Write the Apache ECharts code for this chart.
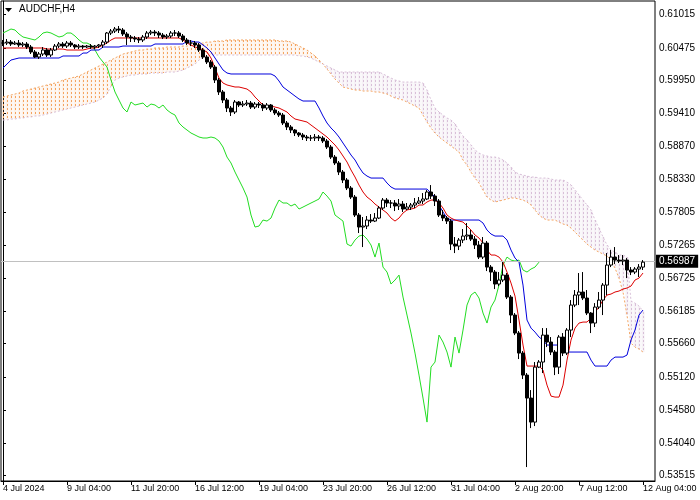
<!DOCTYPE html>
<html><head><meta charset="utf-8">
<script src="https://cdn.jsdelivr.net/npm/echarts@6/dist/echarts.min.js"></script>
<style>html,body{margin:0;padding:0;background:#fff}#c{width:700px;height:500px}</style>
</head><body><div id="c"></div>
<script>
const symbolTitle = 'AUDCHF,H4';
const xTickBars = [0,16,32,48,64,80,96,112,128,144,160];
const xTickLabels = ['4 Jul 2024','9 Jul 04:00','11 Jul 20:00','16 Jul 12:00','19 Jul 04:00','23 Jul 20:00','26 Jul 12:00','31 Jul 04:00','2 Aug 20:00','7 Aug 12:00','12 Aug 04:00'];
const yTickLabels = ['0.61015','0.60475','0.59950','0.59410','0.58870','0.58330','0.57805','0.57265','0.56725','0.56185','0.55660','0.55120','0.54580','0.54040','0.53515'];
const lastPrice = 0.56987;
const chikouShift = 26;

const open = [
0.60554,0.60554,0.60570,0.60538,0.60554,0.60522,0.60538,0.60489,0.60408,0.60326,
0.60375,0.60440,0.60359,0.60440,0.60505,0.60538,0.60505,0.60554,0.60522,0.60489,
0.60505,0.60489,0.60505,0.60489,0.60505,0.60522,0.60570,0.60717,0.60749,0.60782,
0.60766,0.60701,0.60652,0.60636,0.60619,0.60603,0.60652,0.60717,0.60733,0.60717,
0.60684,0.60652,0.60668,0.60717,0.60717,0.60668,0.60603,0.60554,0.60554,0.60522,
0.60440,0.60326,0.60245,0.60163,0.59952,0.59757,0.59626,0.59496,0.59431,0.59594,
0.59545,0.59561,0.59577,0.59512,0.59561,0.59545,0.59496,0.59545,0.59464,0.59415,
0.59382,0.59252,0.59187,0.59138,0.59089,0.59057,0.59024,0.59008,0.59008,0.59024,
0.59008,0.58959,0.58861,0.58698,0.58601,0.58454,0.58324,0.58194,0.58047,0.57754,
0.57559,0.57575,0.57673,0.57656,0.57705,0.57868,0.57998,0.57950,0.57950,0.57901,
0.57933,0.57852,0.57884,0.57917,0.57950,0.57982,0.58015,0.58129,0.58063,0.57982,
0.57754,0.57705,0.57656,0.57282,0.57249,0.57347,0.57412,0.57429,0.57363,0.57266,
0.57070,0.57298,0.56907,0.56826,0.56631,0.56696,0.56777,0.56419,0.56126,0.55833,
0.55507,0.55149,0.54775,0.54384,0.55279,0.55361,0.55800,0.55687,0.55524,0.55279,
0.55768,0.55507,0.55882,0.56289,0.56452,0.56501,0.56403,0.56159,0.55996,0.56256,
0.56370,0.56614,0.56940,0.57070,0.57021,0.57005,0.57021,0.56859,0.56826,0.56875,
0.56907];
const close = [
0.60554,0.60570,0.60538,0.60554,0.60522,0.60538,0.60489,0.60408,0.60326,0.60375,
0.60440,0.60359,0.60440,0.60505,0.60538,0.60505,0.60554,0.60522,0.60489,0.60505,
0.60489,0.60505,0.60489,0.60505,0.60522,0.60570,0.60717,0.60749,0.60782,0.60766,
0.60701,0.60652,0.60636,0.60619,0.60603,0.60652,0.60717,0.60733,0.60717,0.60684,
0.60652,0.60668,0.60717,0.60717,0.60668,0.60603,0.60554,0.60554,0.60522,0.60440,
0.60326,0.60245,0.60163,0.59952,0.59757,0.59626,0.59496,0.59431,0.59594,0.59545,
0.59561,0.59577,0.59512,0.59561,0.59545,0.59496,0.59545,0.59464,0.59415,0.59382,
0.59252,0.59187,0.59138,0.59089,0.59057,0.59024,0.59008,0.59008,0.59024,0.59008,
0.58959,0.58861,0.58698,0.58601,0.58454,0.58324,0.58194,0.58047,0.57754,0.57559,
0.57575,0.57673,0.57656,0.57705,0.57868,0.57998,0.57950,0.57950,0.57901,0.57933,
0.57852,0.57884,0.57917,0.57950,0.57982,0.58015,0.58129,0.58063,0.57982,0.57754,
0.57705,0.57656,0.57282,0.57249,0.57347,0.57412,0.57429,0.57363,0.57266,0.57070,
0.57298,0.56907,0.56826,0.56631,0.56696,0.56777,0.56419,0.56126,0.55833,0.55507,
0.55149,0.54775,0.54384,0.55279,0.55361,0.55800,0.55687,0.55524,0.55279,0.55768,
0.55507,0.55882,0.56289,0.56452,0.56501,0.56403,0.56159,0.55996,0.56256,0.56370,
0.56614,0.56940,0.57070,0.57021,0.57005,0.57021,0.56859,0.56826,0.56875,0.56907,
0.56987];
const high = [
0.60603,0.60619,0.60603,0.60587,0.60603,0.60570,0.60570,0.60522,0.60440,0.60408,
0.60489,0.60473,0.60473,0.60538,0.60570,0.60570,0.60587,0.60587,0.60538,0.60538,
0.60522,0.60522,0.60538,0.60522,0.60538,0.60603,0.60733,0.60782,0.60815,0.60831,
0.60798,0.60733,0.60684,0.60668,0.60652,0.60684,0.60749,0.60766,0.60766,0.60749,
0.60717,0.60701,0.60749,0.60766,0.60749,0.60701,0.60636,0.60603,0.60587,0.60554,
0.60473,0.60359,0.60277,0.60196,0.59984,0.59789,0.59659,0.59529,0.59626,0.59610,
0.59610,0.59626,0.59610,0.59594,0.59594,0.59577,0.59577,0.59561,0.59496,0.59447,
0.59415,0.59285,0.59219,0.59154,0.59105,0.59089,0.59057,0.59057,0.59073,0.59057,
0.59040,0.58991,0.58894,0.58731,0.58633,0.58487,0.58356,0.58226,0.58080,0.57787,
0.57722,0.57738,0.57770,0.57787,0.57901,0.58031,0.58031,0.57998,0.57998,0.58015,
0.57982,0.57950,0.57950,0.58031,0.58047,0.58112,0.58161,0.58242,0.58096,0.58015,
0.57836,0.57738,0.57689,0.57396,0.57380,0.57526,0.57624,0.57510,0.57412,0.57331,
0.57396,0.57331,0.56940,0.56859,0.56826,0.56989,0.56810,0.56452,0.56159,0.55866,
0.55540,0.55182,0.54905,0.55361,0.55393,0.55914,0.55914,0.55768,0.55556,0.55800,
0.55833,0.55914,0.56370,0.56533,0.56810,0.56826,0.56533,0.56175,0.56321,0.56501,
0.56647,0.57135,0.57184,0.57233,0.57103,0.57103,0.57054,0.56907,0.56907,0.56956,
0.57021];
const low = [
0.60505,0.60522,0.60505,0.60522,0.60489,0.60489,0.60456,0.60375,0.60310,0.60294,
0.60343,0.60326,0.60326,0.60424,0.60473,0.60473,0.60473,0.60489,0.60456,0.60456,
0.60456,0.60473,0.60456,0.60456,0.60473,0.60473,0.60538,0.60684,0.60717,0.60717,
0.60668,0.60522,0.60570,0.60570,0.60554,0.60570,0.60619,0.60684,0.60668,0.60636,
0.60619,0.60619,0.60636,0.60668,0.60636,0.60570,0.60522,0.60505,0.60473,0.60408,
0.60294,0.60212,0.60131,0.59903,0.59708,0.59577,0.59431,0.59366,0.59398,0.59512,
0.59512,0.59529,0.59480,0.59480,0.59496,0.59447,0.59464,0.59431,0.59382,0.59350,
0.59219,0.59138,0.59089,0.59040,0.59024,0.58975,0.58959,0.58959,0.58959,0.58959,
0.58926,0.58829,0.58666,0.58568,0.58405,0.58275,0.58161,0.58015,0.57722,0.57461,
0.57233,0.57526,0.57624,0.57640,0.57689,0.57836,0.57884,0.57868,0.57819,0.57836,
0.57803,0.57836,0.57836,0.57868,0.57933,0.57933,0.57998,0.58015,0.57901,0.57722,
0.57656,0.57608,0.57184,0.57135,0.57184,0.57298,0.57347,0.57331,0.57201,0.57038,
0.57038,0.56842,0.56680,0.56549,0.56598,0.56663,0.56387,0.55996,0.55800,0.55410,
0.55084,0.53652,0.54286,0.54319,0.55263,0.55182,0.55605,0.55475,0.55149,0.55166,
0.55459,0.55475,0.55768,0.56256,0.56289,0.56370,0.56126,0.55833,0.55931,0.56224,
0.56126,0.56452,0.56907,0.56956,0.56973,0.56940,0.56728,0.56777,0.56793,0.56745,
0.56859];
const tenkan = [
0.60473,0.60473,0.60473,0.60473,0.60473,0.60473,0.60473,0.60473,0.60473,0.60473,
0.60473,0.60456,0.60456,0.60456,0.60456,0.60456,0.60440,0.60440,0.60440,0.60440,
0.60440,0.60456,0.60473,0.60473,0.60489,0.60522,0.60554,0.60603,0.60636,0.60636,
0.60636,0.60636,0.60636,0.60636,0.60636,0.60636,0.60636,0.60636,0.60636,0.60636,
0.60636,0.60636,0.60636,0.60636,0.60636,0.60603,0.60554,0.60522,0.60489,0.60473,
0.60440,0.60408,0.60310,0.60147,0.59984,0.59903,0.59871,0.59854,0.59838,0.59838,
0.59822,0.59805,0.59757,0.59675,0.59610,0.59545,0.59529,0.59529,0.59512,0.59496,
0.59464,0.59431,0.59366,0.59317,0.59301,0.59285,0.59268,0.59219,0.59171,0.59122,
0.59073,0.59024,0.58959,0.58894,0.58812,0.58715,0.58617,0.58487,0.58373,0.58242,
0.58129,0.58047,0.57998,0.57933,0.57884,0.57836,0.57787,0.57705,0.57656,0.57705,
0.57787,0.57836,0.57852,0.57868,0.57917,0.57917,0.57966,0.57998,0.57998,0.57950,
0.57868,0.57754,0.57705,0.57673,0.57656,0.57640,0.57575,0.57510,0.57429,0.57380,
0.57298,0.57184,0.57103,0.57103,0.57070,0.56989,0.56826,0.56647,0.56435,0.56045,
0.55638,0.55296,0.55296,0.55296,0.55296,0.55231,0.54986,0.54807,0.54791,0.54791,
0.54986,0.55393,0.55719,0.55914,0.55996,0.56012,0.56012,0.56077,0.56175,0.56256,
0.56370,0.56452,0.56468,0.56501,0.56517,0.56549,0.56566,0.56598,0.56696,0.56728,
0.56810];
const kijun = [
0.60147,0.60212,0.60277,0.60294,0.60310,0.60310,0.60310,0.60310,0.60310,0.60310,
0.60310,0.60310,0.60310,0.60310,0.60310,0.60343,0.60343,0.60343,0.60343,0.60343,
0.60391,0.60391,0.60440,0.60440,0.60440,0.60489,0.60489,0.60489,0.60489,0.60489,
0.60505,0.60505,0.60505,0.60505,0.60505,0.60505,0.60505,0.60505,0.60538,0.60538,
0.60538,0.60538,0.60538,0.60538,0.60538,0.60538,0.60587,0.60587,0.60570,0.60570,
0.60522,0.60473,0.60408,0.60310,0.60212,0.60115,0.60066,0.60050,0.60050,0.60050,
0.60050,0.60050,0.60050,0.60050,0.60050,0.60050,0.60050,0.60050,0.60017,0.59936,
0.59838,0.59789,0.59740,0.59691,0.59643,0.59610,0.59610,0.59610,0.59610,0.59496,
0.59366,0.59252,0.59171,0.59105,0.59024,0.58926,0.58829,0.58731,0.58650,0.58536,
0.58438,0.58389,0.58356,0.58356,0.58356,0.58356,0.58275,0.58210,0.58177,0.58177,
0.58177,0.58177,0.58177,0.58177,0.58177,0.58177,0.58177,0.58112,0.58047,0.57917,
0.57803,0.57705,0.57673,0.57673,0.57673,0.57673,0.57673,0.57673,0.57673,0.57673,
0.57624,0.57510,0.57445,0.57412,0.57412,0.57412,0.57347,0.57184,0.57054,0.56989,
0.56614,0.56045,0.55914,0.55849,0.55768,0.55719,0.55638,0.55638,0.55638,0.55638,
0.55638,0.55524,0.55524,0.55524,0.55524,0.55524,0.55524,0.55393,0.55296,0.55296,
0.55296,0.55296,0.55393,0.55442,0.55442,0.55442,0.55475,0.55719,0.55882,0.56126,
0.56208];
const spanA = [
0.59675,0.59691,0.59708,0.59724,0.59740,0.59773,0.59789,0.59805,0.59822,0.59838,
0.59854,0.59871,0.59887,0.59903,0.59919,0.59952,0.59968,0.59984,0.60001,0.60017,
0.60050,0.60082,0.60115,0.60147,0.60180,0.60212,0.60245,0.60277,0.60310,0.60343,
0.60375,0.60391,0.60408,0.60424,0.60440,0.60440,0.60456,0.60456,0.60473,0.60473,
0.60473,0.60489,0.60489,0.60489,0.60489,0.60505,0.60505,0.60522,0.60522,0.60538,
0.60554,0.60570,0.60570,0.60587,0.60587,0.60587,0.60603,0.60603,0.60603,0.60603,
0.60603,0.60603,0.60603,0.60603,0.60603,0.60603,0.60603,0.60603,0.60603,0.60587,
0.60587,0.60587,0.60570,0.60538,0.60505,0.60473,0.60440,0.60391,0.60343,0.60277,
0.60212,0.60131,0.60050,0.59968,0.59903,0.59838,0.59822,0.59805,0.59789,0.59789,
0.59773,0.59773,0.59773,0.59757,0.59757,0.59740,0.59724,0.59691,0.59659,0.59643,
0.59626,0.59594,0.59561,0.59529,0.59496,0.59382,0.59268,0.59171,0.59089,0.59024,
0.58975,0.58926,0.58877,0.58829,0.58780,0.58650,0.58568,0.58454,0.58356,0.58275,
0.58161,0.58047,0.57998,0.57966,0.57982,0.57998,0.58015,0.58031,0.58031,0.58015,
0.57998,0.57966,0.57917,0.57836,0.57754,0.57705,0.57673,0.57673,0.57673,0.57640,
0.57608,0.57591,0.57542,0.57477,0.57412,0.57347,0.57282,0.57233,0.57184,0.57152,
0.57119,0.57087,0.57021,0.56891,0.56728,0.56501,0.56126,0.55670,0.55605,0.55573,
0.55524];
const spanB = [
0.59301,0.59301,0.59317,0.59317,0.59333,0.59333,0.59350,0.59350,0.59366,0.59366,
0.59382,0.59398,0.59415,0.59431,0.59447,0.59464,0.59480,0.59496,0.59512,0.59529,
0.59545,0.59561,0.59577,0.59594,0.59626,0.59659,0.59724,0.59854,0.59952,0.59984,
0.60001,0.60017,0.60033,0.60033,0.60050,0.60050,0.60050,0.60066,0.60066,0.60066,
0.60066,0.60082,0.60082,0.60082,0.60098,0.60115,0.60147,0.60180,0.60212,0.60277,
0.60326,0.60343,0.60359,0.60359,0.60359,0.60359,0.60359,0.60359,0.60359,0.60359,
0.60359,0.60359,0.60359,0.60359,0.60359,0.60359,0.60359,0.60359,0.60359,0.60359,
0.60359,0.60359,0.60359,0.60359,0.60343,0.60343,0.60326,0.60310,0.60277,0.60245,
0.60212,0.60180,0.60147,0.60115,0.60082,0.60082,0.60082,0.60082,0.60082,0.60082,
0.60082,0.60082,0.60082,0.60082,0.60082,0.60050,0.60017,0.59984,0.59952,0.59936,
0.59919,0.59919,0.59919,0.59919,0.59919,0.59903,0.59789,0.59626,0.59496,0.59431,
0.59382,0.59333,0.59301,0.59236,0.59138,0.59040,0.58975,0.58894,0.58812,0.58763,
0.58731,0.58715,0.58698,0.58698,0.58682,0.58650,0.58601,0.58536,0.58454,0.58422,
0.58405,0.58389,0.58373,0.58373,0.58356,0.58356,0.58356,0.58340,0.58324,0.58324,
0.58324,0.58291,0.58242,0.58161,0.58080,0.57998,0.57917,0.57836,0.57673,0.57542,
0.57396,0.57266,0.57184,0.57152,0.57103,0.57103,0.57070,0.56354,0.56321,0.56273,
0.56191];

const FONT = 'Liberation Sans';
const UP_KUMO = '#F4A460';
const DOWN_KUMO = '#D8BFD8';
const yTickVals = yTickLabels.map(Number);
const candleData = close.map((c, i) => [i, open[i], c, low[i], high[i]]);
// Kumo: one hatched column per bar, body from Senkou B (open) to Senkou A (close)
const cloudData = spanA.map((a, i) => [i, spanB[i], a, Math.min(a, spanB[i]), Math.max(a, spanB[i])]);
const chikouData = close.slice(chikouShift).map((c, i) => [i, c]);
const lineData = arr => arr.map((v, i) => [i, v]);

function hatchPattern(color, tint) {
  const cv = document.createElement('canvas');
  cv.width = 4; cv.height = 4;
  const g = cv.getContext('2d');
  g.fillStyle = tint;
  g.fillRect(0, 0, 4, 4);
  g.fillStyle = color;
  g.fillRect(3, 0, 1, 2);
  return {image: cv, repeat: 'repeat'};
}

const chart = echarts.init(document.getElementById('c'), null, {renderer: 'canvas'});
chart.setOption({
  animation: false,
  backgroundColor: '#ffffff',
  grid: {left: 1, right: 45, top: 1, bottom: 19, show: true, borderColor: '#000', borderWidth: 1, backgroundColor: 'transparent'},
  xAxis: {
    type: 'value', min: -0.5, max: 163,
    axisLine: {show: true, lineStyle: {color: '#000', width: 1}},
    splitLine: {show: false},
    axisTick: {show: true, customValues: xTickBars, length: 4, lineStyle: {color: '#000'}},
    axisLabel: {
      customValues: xTickBars,
      formatter: v => { const k = xTickBars.indexOf(Math.round(v)); return k >= 0 ? xTickLabels[k] : ''; },
      align: 'left', fontSize: 9, fontFamily: FONT, color: '#000', margin: 3
    }
  },
  yAxis: {
    type: 'value', position: 'right', min: 0.53425, max: 0.61238, scale: true,
    axisLine: {show: true, lineStyle: {color: '#000', width: 1}},
    splitLine: {show: false},
    axisTick: {show: true, customValues: yTickVals, length: 3, lineStyle: {color: '#000'}},
    axisLabel: {
      customValues: yTickVals,
      formatter: v => { let best = 0; yTickVals.forEach((t, k) => { if (Math.abs(t - v) < Math.abs(yTickVals[best] - v)) best = k; }); return yTickLabels[best]; },
      fontSize: 10, fontFamily: FONT, color: '#000', margin: 4
    }
  },
  graphic: [
    {type: 'polygon', shape: {points: [[5, 8], [12, 8], [8.5, 12]]}, style: {fill: '#000'}, z: 100},
    {type: 'text', left: 19, top: 4, style: {text: symbolTitle, font: '10px "Liberation Sans"', fill: '#000'}, z: 100}
  ],
  series: [
    {
      type: 'candlestick', name: 'Kumo', data: cloudData, encode: {x: 0, y: [1, 2, 3, 4]},
      barWidth: 4, z: 1, silent: true,
      itemStyle: {color: hatchPattern(UP_KUMO, 'rgba(244,164,96,0.14)'), color0: hatchPattern(DOWN_KUMO, 'rgba(216,191,216,0.22)'),
        borderColor: 'rgba(0,0,0,0)', borderColor0: 'rgba(0,0,0,0)', borderWidth: 0}
    },
    {type: 'line', name: 'Senkou A', data: lineData(spanA), symbol: 'none', z: 2, silent: true,
      lineStyle: {color: UP_KUMO, width: 1, type: [2, 2]}},
    {type: 'line', name: 'Senkou B', data: lineData(spanB), symbol: 'none', z: 2, silent: true,
      lineStyle: {color: DOWN_KUMO, width: 1, type: [2, 2]}},
    {type: 'line', name: 'Chikou', data: chikouData, symbol: 'none', z: 3, silent: true,
      lineStyle: {color: '#22dd22', width: 1}},
    {type: 'line', name: 'Kijun', data: lineData(kijun), symbol: 'none', z: 3, silent: true,
      lineStyle: {color: '#0000dd', width: 1}},
    {type: 'line', name: 'Tenkan', data: lineData(tenkan), symbol: 'none', z: 3, silent: true,
      lineStyle: {color: '#dd0000', width: 1}},
    {
      type: 'candlestick', name: 'AUDCHF', data: candleData, encode: {x: 0, y: [1, 2, 3, 4]},
      barWidth: 3, z: 5, silent: true,
      itemStyle: {color: '#ffffff', color0: '#000000', borderColor: '#000000', borderColor0: '#000000', borderWidth: 1},
      markLine: {
        silent: true, symbol: ['none', 'none'], animation: false,
        lineStyle: {color: '#c0c0c0', type: 'solid', width: 1},
        label: {show: true, position: 'end', formatter: lastPrice.toFixed(5), distance: 1,
          backgroundColor: '#000', color: '#fff', fontFamily: FONT, fontSize: 10, padding: [2, 3, 1, 3]},
        data: [{yAxis: lastPrice}]
      }
    }
  ]
});
</script></body></html>
